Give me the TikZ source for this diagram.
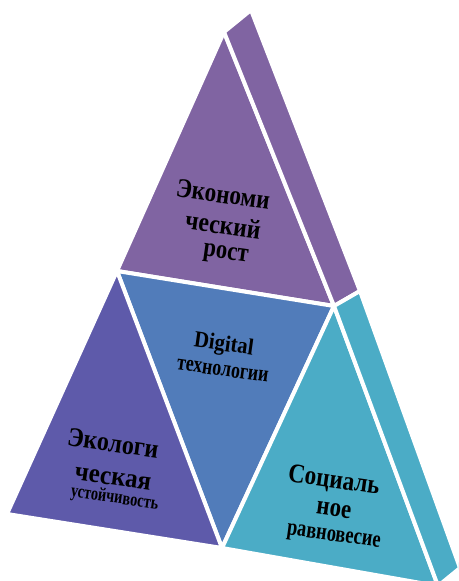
\documentclass[tikz,border=0pt]{standalone}
\usepackage{fontspec}
\usepackage{graphicx}
\setmainfont{Liberation Serif}
\definecolor{econ}{HTML}{8064A2}
\definecolor{digi}{HTML}{517CBA}
\definecolor{eco}{HTML}{5E5AAA}
\definecolor{soc}{HTML}{4BACC6}
\newcommand{\tline}[3]{\scalebox{#2}[1]{\fontsize{#1}{#1}\selectfont #3}}
\begin{document}
\begin{tikzpicture}[x=1pt,y=-1pt,
  face/.style={draw=white,line width=4pt,line join=round},
  lbl/.style={text=black,anchor=base,rotate=-8,inner sep=0pt,font=\bfseries}]
\useasboundingbox (0,0) rectangle (458,581);
\clip (0,0) rectangle (458,581);
\coordinate (A) at (224,32);
\coordinate (P) at (251,10);
\coordinate (B) at (117,271);
\coordinate (C) at (334,306);
\coordinate (G) at (360,291);
\coordinate (D) at (222,548);
\coordinate (E) at (7,514);
\coordinate (F) at (438,586);
\coordinate (H) at (460,568);
% faces
\path[face,fill=econ] (A)--(B)--(C)--cycle;
\path[face,fill=econ] (A)--(P)--(G)--(C)--cycle;
\path[face,fill=digi] (B)--(C)--(D)--cycle;
\path[face,fill=eco] (B)--(D)--(E)--cycle;
\path[face,fill=soc] (C)--(D)--(F)--cycle;
\path[face,fill=soc] (C)--(G)--(H)--(F)--cycle;
% labels
\node[lbl] (econ1) at (222,203) {\tline{27}{0.86}{Экономи}};
\node[lbl] (econ2) at (222,234) {\tline{27}{0.88}{ческий}};
\node[lbl] (econ3) at (225,259) {\tline{27}{0.84}{рост}};
\node[lbl] (digi1) at (223,351) {\tline{23}{0.9}{Digital}};
\node[lbl] (digi2) at (222,376) {\tline{23}{0.78}{технологии}};
\node[lbl] (eco1) at (112,452) {\tline{27}{0.89}{Экологи}};
\node[lbl] (eco2) at (112,485) {\tline{27}{0.93}{ческая}};
\node[lbl] (eco3) at (114,503) {\tline{19}{0.76}{устойчивость}};
\node[lbl] (soc1) at (333,488) {\tline{27}{0.86}{Социаль}};
\node[lbl] (soc2) at (333,516) {\tline{27}{0.85}{ное}};
\node[lbl] (soc3) at (333,541) {\tline{24}{0.77}{равновесие}};
\end{tikzpicture}
\end{document}
